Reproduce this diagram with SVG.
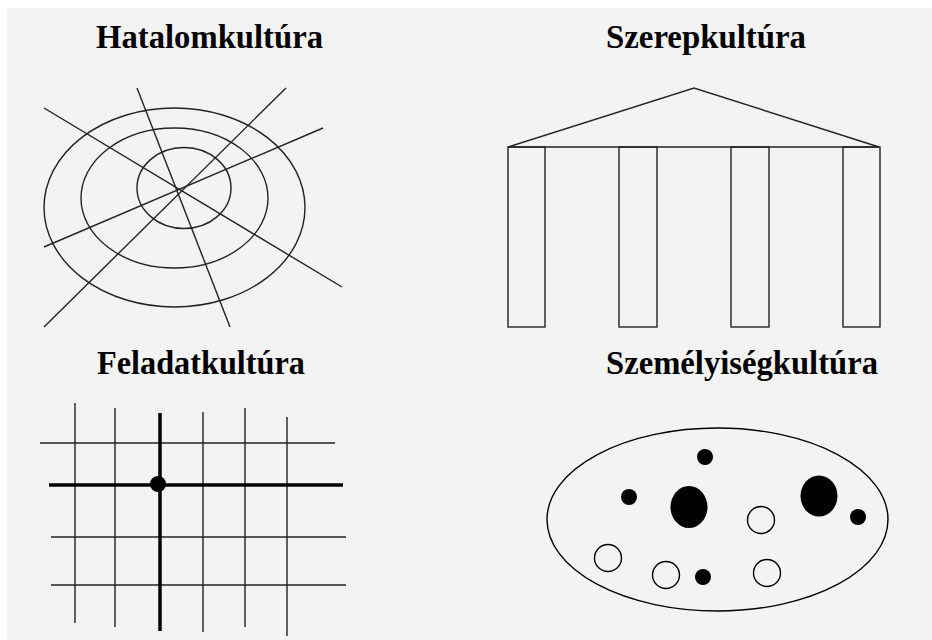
<svg xmlns="http://www.w3.org/2000/svg" width="932" height="640" viewBox="0 0 932 640">
<style>
.t{font-family:"Liberation Serif","Times New Roman",serif;font-weight:bold;font-size:34px;fill:#000}
.s{fill:none;stroke:#222;stroke-width:1.4}
.k{fill:none;stroke:#000;stroke-width:3.5}
.f{fill:#000}
.o{fill:none;stroke:#000;stroke-width:1.4}
</style>
<rect x="0" y="0" width="932" height="640" fill="#fff"/>
<rect x="7" y="8" width="925" height="632" fill="#f3f3f3"/>
<g id="hatalom">
<text class="t" x="96" y="48" textLength="227" lengthAdjust="spacingAndGlyphs">Hatalomkultúra</text>
<ellipse class="s" cx="174.5" cy="207.5" rx="130.5" ry="99.5"/>
<ellipse class="s" cx="174.5" cy="198" rx="93.5" ry="70"/>
<ellipse class="s" cx="184" cy="188" rx="47" ry="40.5"/>
<line class="s" x1="44" y1="108" x2="342" y2="287"/>
<line class="s" x1="137" y1="88" x2="230" y2="327"/>
<line class="s" x1="286" y1="88" x2="44" y2="327"/>
<line class="s" x1="323" y1="128" x2="44" y2="247"/>
</g>
<g id="szerep">
<text class="t" x="606" y="48" textLength="200" lengthAdjust="spacingAndGlyphs">Szerepkultúra</text>
<polyline class="s" points="508,147 694,88 879,147"/>
<line class="s" x1="508" y1="147" x2="879" y2="147"/>
<rect class="s" x="508" y="147" width="37" height="180"/>
<rect class="s" x="619" y="147" width="38" height="180"/>
<rect class="s" x="731" y="147" width="38" height="180"/>
<rect class="s" x="843" y="147" width="37" height="180"/>
</g>
<g id="feladat">
<text class="t" x="97" y="374" textLength="208" lengthAdjust="spacingAndGlyphs">Feladatkultúra</text>
<line class="s" x1="75" y1="403" x2="75" y2="623"/>
<line class="s" x1="115" y1="408" x2="115" y2="627"/>
<line class="s" x1="203" y1="412" x2="203" y2="632"/>
<line class="s" x1="245" y1="408" x2="245" y2="627"/>
<line class="s" x1="287" y1="417" x2="287" y2="636"/>
<line class="s" x1="40" y1="443" x2="335" y2="443"/>
<line class="s" x1="51" y1="537" x2="346" y2="537"/>
<line class="s" x1="51" y1="585" x2="346" y2="585"/>
<line class="k" x1="160" y1="413" x2="160" y2="631"/>
<line class="k" x1="49" y1="485" x2="343" y2="485"/>
<circle class="f" cx="158" cy="484" r="8"/>
</g>
<g id="szemelyiseg">
<text class="t" x="606" y="374" textLength="272" lengthAdjust="spacingAndGlyphs">Személyiségkultúra</text>
<ellipse class="o" cx="717.5" cy="519.5" rx="170.5" ry="91.5"/>
<circle class="f" cx="705" cy="457" r="8"/>
<circle class="f" cx="629" cy="497" r="8"/>
<ellipse class="f" cx="689" cy="507" rx="18.5" ry="21"/>
<ellipse class="f" cx="819" cy="496" rx="18.5" ry="20.5"/>
<circle class="f" cx="858" cy="517" r="8"/>
<circle class="f" cx="703" cy="577" r="8"/>
<circle class="o" cx="761" cy="520" r="13.5"/>
<circle class="o" cx="608" cy="558" r="13.5"/>
<circle class="o" cx="666" cy="575" r="13.5"/>
<circle class="o" cx="767" cy="573" r="13.5"/>
</g>
</svg>
